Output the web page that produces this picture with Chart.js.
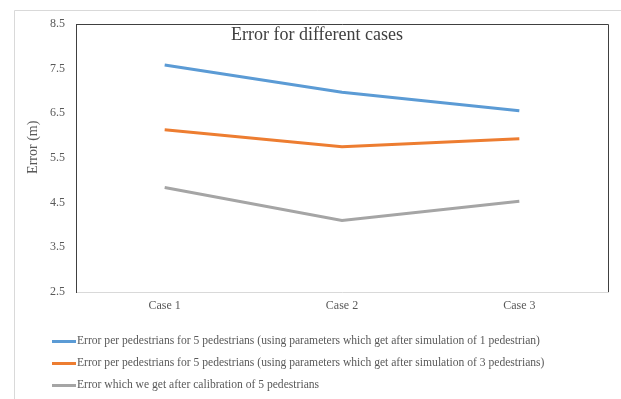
<!DOCTYPE html>
<html>
<head>
<meta charset="utf-8">
<script src="https://cdn.jsdelivr.net/npm/chart.js@4.4.1/dist/chart.umd.min.js"></script>
<style>
  html, body { margin: 0; padding: 0; background: #ffffff; }
  #wrap { position: absolute; left: 0; top: 0; width: 621px; height: 399px; }
</style>
</head>
<body>
<div id="wrap"><canvas id="c" width="621" height="399"></canvas></div>
<script>
const categories = ['Case 1', 'Case 2', 'Case 3'];
const seriesBlue = [7.58, 6.97, 6.56];
const seriesOrange = [6.13, 5.75, 5.93];
const seriesGray = [4.84, 4.10, 4.53];
const yTicks = [2.5, 3.5, 4.5, 5.5, 6.5, 7.5, 8.5];
const seriesLabels = [
  'Error per pedestrians for 5 pedestrians (using parameters which get after simulation of 1 pedestrian)',
  'Error per pedestrians for 5 pedestrians (using parameters which get after simulation of 3 pedestrians)',
  'Error which we get after calibration of 5 pedestrians'
];
const chartTitle = 'Error for different cases';
const yTitle = 'Error (m)';

const SERIF = '"Liberation Serif", "Times New Roman", serif';

const decor = {
  id: 'decor',
  beforeDraw(chart) {
    const ctx = chart.ctx;
    ctx.save();
    ctx.fillStyle = '#ffffff';
    ctx.fillRect(0, 0, chart.width, chart.height);
    ctx.strokeStyle = '#d9d9d9';
    ctx.lineWidth = 1;
    ctx.beginPath();
    ctx.moveTo(14.5, chart.height);
    ctx.lineTo(14.5, 10.5);
    ctx.lineTo(chart.width, 10.5);
    ctx.stroke();
    ctx.restore();
  },
  afterDraw(chart) {
    const ctx = chart.ctx;
    const a = chart.chartArea;
    ctx.save();
    // top and right frame lines
    ctx.strokeStyle = '#404040';
    ctx.lineWidth = 1;
    ctx.beginPath();
    ctx.moveTo(a.left, a.top + 0.5);
    ctx.lineTo(a.right + 0.5, a.top + 0.5);
    ctx.lineTo(a.right + 0.5, a.bottom);
    ctx.stroke();
    // title
    ctx.fillStyle = '#404040';
    ctx.font = '18px ' + SERIF;
    ctx.textAlign = 'center';
    ctx.textBaseline = 'middle';
    ctx.fillText(chartTitle, a.left + (a.right - a.left) * 0.453, a.top + 11);
    // y axis title
    ctx.save();
    ctx.translate(33, a.top + (a.bottom - a.top) * 0.46);
    ctx.rotate(-Math.PI / 2);
    ctx.fillStyle = '#595959';
    ctx.font = '14px ' + SERIF;
    ctx.fillText(yTitle, 0, 0);
    ctx.restore();
    // legend
    chart.data.datasets.forEach((ds, i) => {
      const y = 341 + i * 22;
      ctx.strokeStyle = ds.borderColor;
      ctx.lineWidth = 3;
      ctx.beginPath();
      ctx.moveTo(52, y + 0.5);
      ctx.lineTo(76, y + 0.5);
      ctx.stroke();
      ctx.fillStyle = '#595959';
      ctx.font = '11.6px ' + SERIF;
      ctx.textAlign = 'left';
      ctx.textBaseline = 'middle';
      ctx.fillText(ds.label, 77, y);
    });
    ctx.restore();
  }
};

new Chart(document.getElementById('c'), {
  type: 'line',
  data: {
    labels: categories,
    datasets: [
      { label: seriesLabels[0], data: seriesBlue, borderColor: '#5b9bd5', backgroundColor: '#5b9bd5' },
      { label: seriesLabels[1], data: seriesOrange, borderColor: '#ed7d31', backgroundColor: '#ed7d31' },
      { label: seriesLabels[2], data: seriesGray, borderColor: '#a5a5a5', backgroundColor: '#a5a5a5' }
    ]
  },
  options: {
    responsive: false,
    animation: false,
    devicePixelRatio: 1,
    layout: { padding: { left: 0, top: 24, right: 13, bottom: 0 } },
    elements: {
      line: { borderWidth: 3, tension: 0, borderCapStyle: 'butt' },
      point: { radius: 0, hoverRadius: 0 }
    },
    plugins: {
      legend: { display: false },
      title: { display: false },
      tooltip: { enabled: false }
    },
    scales: {
      x: {
        offset: true,
        grid: { display: false, drawTicks: false },
        border: { display: true, color: '#d9d9d9', width: 1 },
        ticks: { color: '#595959', font: { family: SERIF, size: 12 }, padding: 7, maxRotation: 0 },
        afterFit(scale) { scale.height = 107; }
      },
      y: {
        min: 2.5,
        max: 8.5,
        grid: { display: false, drawTicks: false },
        border: { display: true, color: '#404040', width: 1 },
        afterBuildTicks(scale) { scale.ticks = yTicks.map(v => ({ value: v })); },
        ticks: {
          color: '#595959',
          font: { family: SERIF, size: 12 },
          padding: 11,
          callback: (v) => Number(v).toFixed(1)
        },
        afterFit(scale) { scale.width = 76; }
      }
    }
  },
  plugins: [decor]
});
</script>
</body>
</html>
